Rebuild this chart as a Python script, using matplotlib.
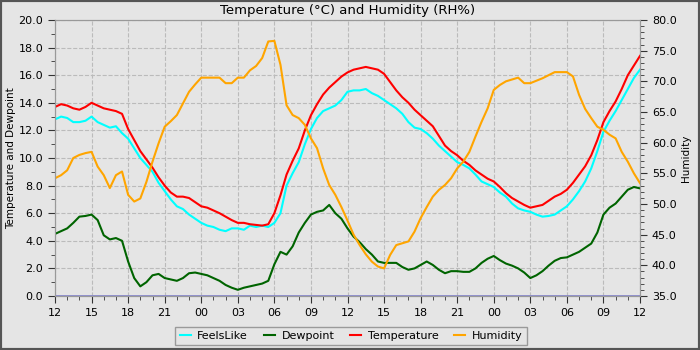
import matplotlib.pyplot as plt
from matplotlib.patches import Rectangle

# hours since 12:00 on day 1
hours = [0, 0.5, 1, 1.5, 2, 2.5, 3, 3.5, 4, 4.5, 5, 5.5, 6, 6.5, 7, 7.5, 8, 8.5, 9, 9.5,
         10, 10.5, 11, 11.5, 12, 12.5, 13, 13.5, 14, 14.5, 15, 15.5, 16, 16.5, 17, 17.5,
         18, 18.5, 19, 19.5, 20, 20.5, 21, 21.5, 22, 22.5, 23, 23.5, 24, 24.5, 25, 25.5,
         26, 26.5, 27, 27.5, 28, 28.5, 29, 29.5, 30, 30.5, 31, 31.5, 32, 32.5, 33, 33.5,
         34, 34.5, 35, 35.5, 36, 36.5, 37, 37.5, 38, 38.5, 39, 39.5, 40, 40.5, 41, 41.5,
         42, 42.5, 43, 43.5, 44, 44.5, 45, 45.5, 46, 46.5, 47, 47.5, 48]

temperature = [13.7, 13.9, 13.8, 13.6, 13.5, 13.7, 14.0, 13.8, 13.6, 13.5, 13.4, 13.2, 12.1, 11.3, 10.5, 9.9,
               9.3, 8.6, 8.0, 7.5, 7.2, 7.2, 7.1, 6.8, 6.5, 6.4, 6.2, 6.0, 5.75, 5.5, 5.3, 5.3,
               5.2, 5.15, 5.1, 5.2, 6.0, 7.3, 8.8, 9.8, 10.7, 12.0, 13.1, 13.9, 14.6, 15.1, 15.5, 15.9,
               16.2, 16.4, 16.5, 16.6, 16.5, 16.4, 16.1, 15.5, 14.9, 14.4, 14.0, 13.5, 13.1, 12.7, 12.3, 11.6,
               10.9, 10.5, 10.2, 9.8, 9.5, 9.1, 8.8, 8.5, 8.3, 7.9, 7.45, 7.1, 6.85, 6.6, 6.4, 6.5,
               6.6, 6.9, 7.2, 7.4, 7.7, 8.2, 8.8, 9.4, 10.2, 11.3, 12.6, 13.4, 14.1, 15.0, 16.0, 16.7, 17.4]

feelslike = [12.8, 13.0, 12.9, 12.6, 12.6, 12.7, 13.0, 12.6, 12.4, 12.2, 12.3, 11.8, 11.4, 10.7, 10.0, 9.5,
             9.0, 8.2, 7.6, 7.0, 6.5, 6.3, 5.9, 5.6, 5.3, 5.1, 5.0, 4.8, 4.7, 4.9, 4.9, 4.8,
             5.1, 5.0, 5.1, 5.0, 5.3, 6.0, 8.0, 8.9, 9.7, 11.0, 12.1, 12.9, 13.4, 13.6, 13.8, 14.2,
             14.8, 14.9, 14.9, 15.0, 14.7, 14.5, 14.2, 13.9, 13.6, 13.2, 12.6, 12.2, 12.1, 11.8, 11.4, 10.9,
             10.5, 10.1, 9.7, 9.5, 9.25, 8.8, 8.3, 8.1, 7.9, 7.5, 7.2, 6.7, 6.35, 6.2, 6.1, 5.9,
             5.75, 5.8, 5.9, 6.2, 6.5, 7.0, 7.6, 8.3, 9.25, 10.5, 11.9, 12.7, 13.4, 14.2, 15.0, 15.8, 16.4]

dewpoint = [4.5, 4.7, 4.9, 5.3, 5.75, 5.8, 5.9, 5.5, 4.4, 4.1, 4.2, 4.0, 2.5, 1.3, 0.7, 1.0,
            1.5, 1.6, 1.3, 1.2, 1.1, 1.3, 1.65, 1.7, 1.6, 1.5, 1.3, 1.1, 0.8, 0.6, 0.45, 0.6,
            0.7, 0.8, 0.9, 1.1, 2.3, 3.2, 3.0, 3.6, 4.6, 5.3, 5.9, 6.1, 6.2, 6.6, 6.0, 5.6,
            4.9, 4.3, 3.9, 3.4, 3.0, 2.5, 2.4, 2.4, 2.4, 2.1, 1.9, 2.0, 2.25, 2.5, 2.25, 1.9,
            1.65, 1.8, 1.8, 1.75, 1.75, 2.0, 2.4, 2.7, 2.9, 2.6, 2.35, 2.2, 2.0, 1.7, 1.3, 1.5,
            1.8, 2.2, 2.55, 2.75, 2.8, 3.0, 3.2, 3.5, 3.8, 4.6, 5.9, 6.4, 6.7, 7.2, 7.7, 7.9, 7.8]

humidity = [54.2, 54.7, 55.5, 57.5, 58.0, 58.3, 58.5, 56.1, 54.7, 52.6, 54.7, 55.3, 51.5, 50.4, 50.9, 53.6,
            56.9, 59.9, 62.6, 63.5, 64.5, 66.4, 68.3, 69.5, 70.6, 70.6, 70.6, 70.6, 69.7, 69.7, 70.6, 70.6,
            71.8, 72.5, 73.8, 76.5, 76.6, 72.7, 66.1, 64.5, 64.0, 62.9, 60.7, 59.1, 55.8, 53.1, 51.5, 49.5,
            47.3, 45.0, 43.3, 41.8, 40.6, 39.8, 39.5, 41.7, 43.3, 43.6, 43.9, 45.5, 47.7, 49.5, 51.2, 52.3,
            53.1, 54.2, 55.8, 56.9, 58.5, 61.0, 63.4, 65.6, 68.6, 69.4, 70.0, 70.3, 70.6, 69.7, 69.7, 70.1,
            70.5, 71.0, 71.5, 71.5, 71.5, 70.8, 67.8, 65.5, 64.0, 62.6, 62.1, 61.3, 60.7, 58.5, 56.9, 55.0, 53.4]

tick_labels = ['12', '15', '18', '21', '00', '03', '06', '09', '12',
               '15', '18', '21', '00', '03', '06', '09', '12']

bg = '#e5e5e5'
plt.rcParams['font.family'] = ['DejaVu Sans']

fig = plt.figure(figsize=(7, 3.5), dpi=100, facecolor=bg)
ax = fig.add_axes([55 / 700, 54 / 350, 585 / 700, 276 / 350])
ax.set_facecolor(bg)
ax2 = ax.twinx()

ax.plot(hours, feelslike, color='cyan', lw=1.5, label='FeelsLike', zorder=3)
ax.plot(hours, dewpoint, color='#006400', lw=1.5, label='Dewpoint', zorder=3)
ax.plot(hours, temperature, color='red', lw=1.5, label='Temperature', zorder=4)
ax2.plot(hours, humidity, color='orange', lw=1.5, label='Humidity')
ax.axhline(0, color='#8888cc', lw=2, zorder=5)

ax.set_xlim(0, 48)
ax.set_ylim(0, 20)
ax2.set_ylim(35, 80)
ax.set_xticks(range(0, 49, 3))
ax.set_xticks(range(0, 49), minor=True)
ax.set_xticklabels(tick_labels)
ax.set_yticks(range(0, 21, 2))
ax.set_yticks(range(0, 21), minor=True)
ax.set_yticklabels([f'{v:.1f}' for v in range(0, 21, 2)])
ax2.set_yticks(range(35, 81, 5))
ax2.set_yticks(range(35, 81), minor=True)
ax2.set_yticklabels([f'{v:.1f}' for v in range(35, 81, 5)])

for a in (ax, ax2):
    a.tick_params(labelsize=8, length=5, color='#333333')
    a.tick_params(which='minor', length=3, color='#333333')
    for s in a.spines.values():
        s.set_color('#999999')
ax.grid(True, which='major', color='#bbbbbb', ls='--', lw=0.8)
ax.set_axisbelow(True)

ax.set_ylabel('Temperature and Dewpoint', fontsize=7.5)
ax.yaxis.set_label_coords(-38.5 / 585, 0.5)
ax2.set_ylabel('Humidity', fontsize=7.5)
ax2.yaxis.set_label_coords(626 / 585, 0.5)
ax.set_title('Temperature (°C) and Humidity (RH%)', fontsize=9.5, pad=4)

handles = ax.get_lines()[:3] + ax2.get_lines()[:1]
leg = fig.legend(handles, [h.get_label() for h in handles], loc='center',
                 bbox_to_anchor=(351 / 700, 14 / 350), ncol=4, fontsize=8,
                 frameon=True, fancybox=False, handlelength=1.0, columnspacing=1.4,
                 handletextpad=0.6, borderpad=0.4)
leg.get_frame().set_facecolor(bg)
leg.get_frame().set_edgecolor('#888888')

fig.patches.append(Rectangle((0, 0), 1, 1, transform=fig.transFigure, fill=False,
                             edgecolor='#555555', lw=3))

fig.savefig('out.png', dpi=100, facecolor=bg)
